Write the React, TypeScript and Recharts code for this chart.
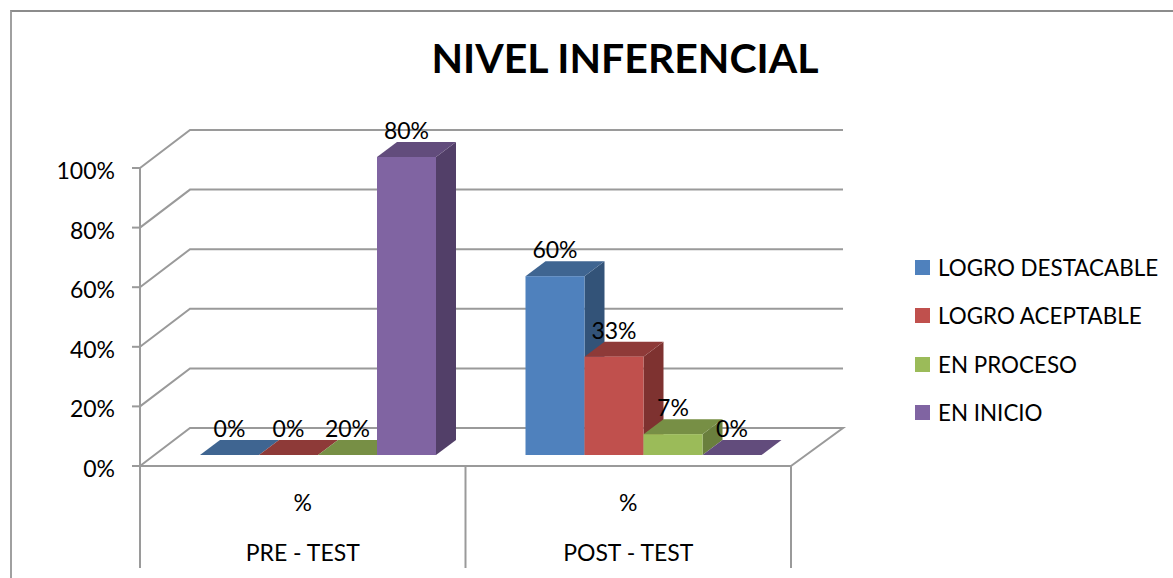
import { Bar, BarChart, CartesianGrid, LabelList, Legend, XAxis, YAxis } from "recharts";

const categories = ["PRE - TEST", "POST - TEST"];
const units = ["%", "%"];
const percentTicks = [0, 20, 40, 60, 80, 100];

// heights as drawn in the picture; the printed labels do not always agree with them
const destacable = [0, 60];
const aceptable = [0, 33];
const proceso = [0, 7];
const inicio = [100, 0];

const destacableLabels = ["0%", "60%"];
const aceptableLabels = ["0%", "33%"];
const procesoLabels = ["20%", "7%"];
const inicioLabels = ["80%", "0%"];

const series = [
  { key: "destacable", name: "LOGRO DESTACABLE", front: "#4f81bd", top: "#3f6591", side: "#335378" },
  { key: "aceptable", name: "LOGRO ACEPTABLE", front: "#c0504d", top: "#8e3a38", side: "#7e3230" },
  { key: "proceso", name: "EN PROCESO", front: "#9bbb59", top: "#778f45", side: "#6a7f3d" },
  { key: "inicio", name: "EN INICIO", front: "#8064a2", top: "#624c7c", side: "#523f68" },
];

const data = categories.map((c, i) => ({
  category: c,
  unit: units[i],
  destacable: destacable[i],
  aceptable: aceptable[i],
  proceso: proceso[i],
  inicio: inicio[i],
  destacableLabel: destacableLabels[i],
  aceptableLabel: aceptableLabels[i],
  procesoLabel: procesoLabels[i],
  inicioLabel: inicioLabels[i],
}));

const FONT = "Lato, 'Open Sans', sans-serif";
const AXIS = "#9a9a9a";
const AXIS_W = 2;
const PLOT_LEFT = 140;
const PLOT_RIGHT = 791;
const PLOT_TOP = 168;
const PLOT_BOTTOM = 466;
const WALL_DX = 50;
const WALL_DY = 38;
const BAR_DX = 16;
const BAR_DY = 11;
const DEPTH_X = 20;
const DEPTH_Y = 15;

function Bar3D(props: any) {
  const { x, y, width, height, top, side, front } = props;
  const l = x + BAR_DX;
  const r = l + width;
  const t = y - BAR_DY;
  const b = t + height;
  return (
    <g>
      <polygon points={`${r},${t} ${r + DEPTH_X},${t - DEPTH_Y} ${r + DEPTH_X},${b - DEPTH_Y} ${r},${b}`} fill={side} />
      <polygon points={`${l},${t} ${l + DEPTH_X},${t - DEPTH_Y} ${r + DEPTH_X},${t - DEPTH_Y} ${r},${t}`} fill={top} />
      <rect x={l} y={t} width={width} height={height} fill={front} />
    </g>
  );
}

function BarLabel(props: any) {
  const { x, y, width, value } = props;
  return (
    <text x={x + BAR_DX + width / 2} y={y - BAR_DY - 27} textAnchor="middle" dominantBaseline="central" fontSize={23} fontFamily={FONT} fill="#000">
      {value}
    </text>
  );
}

function WallLine(props: any) {
  const { x1, y1, x2 } = props;
  const backY = y1 - WALL_DY;
  let d = `M${x1},${y1} L${x1 + WALL_DX},${backY} L${x2 + 52},${backY}`;
  if (Math.abs(y1 - PLOT_BOTTOM) < 1) d += ` L${x2},${y1}`;
  return <path d={d} fill="none" stroke={AXIS} strokeWidth={AXIS_W} />;
}

function CategoryTick(props: any) {
  const { x, payload, index } = props;
  const half = (PLOT_RIGHT - PLOT_LEFT) / categories.length / 2;
  const lineStyle = { stroke: AXIS, strokeWidth: AXIS_W };
  return (
    <g fontFamily={FONT} fontSize={23} fill="#000">
      <line x1={x - half} y1={PLOT_BOTTOM} x2={x - half} y2={568} {...lineStyle} />
      {index === categories.length - 1 && <line x1={x + half} y1={PLOT_BOTTOM} x2={x + half} y2={568} {...lineStyle} />}
      <text x={x} y={502} textAnchor="middle" dominantBaseline="central">{units[index]}</text>
      <text x={x} y={552} textAnchor="middle" dominantBaseline="central">{payload.value}</text>
    </g>
  );
}

function PercentTick(props: any) {
  const { x, y, payload } = props;
  return (
    <text x={x} y={y + 2} textAnchor="end" dominantBaseline="central" fontFamily={FONT} fontSize={23} fill="#000">
      {`${payload.value}%`}
    </text>
  );
}

function LegendList() {
  return (
    <div style={{ fontFamily: FONT, fontSize: 22.4, color: "#000" }}>
      {series.map((s) => (
        <div key={s.key} style={{ display: "flex", alignItems: "center", height: 48.5 }}>
          <span style={{ width: 15, height: 15, background: s.front, marginRight: 8 }} />
          <span style={{ whiteSpace: "nowrap" }}>{s.name}</span>
        </div>
      ))}
    </div>
  );
}

export default function App() {
  return (
    <div style={{ position: "absolute", left: 0, top: 0, width: 1173, height: 578, overflow: "hidden", background: "#fff" }}>
      <div style={{ position: "absolute", left: 10, top: 10, width: 1163, height: 568, borderTop: "2px solid #8c8c8c", borderLeft: "2px solid #a0a0a0", boxSizing: "border-box" }} />
      <div style={{ position: "absolute", left: 300, width: 650, top: 32, textAlign: "center", fontFamily: FONT, fontWeight: 700, fontSize: 41, lineHeight: "52px", color: "#000" }}>
        NIVEL INFERENCIAL
      </div>
      <BarChart
        width={1173}
        height={578}
        data={data}
        margin={{ top: PLOT_TOP, right: 1173 - PLOT_RIGHT, bottom: 0, left: 60 }}
        barCategoryGap={44}
        barGap={0}
        style={{ position: "absolute", left: 0, top: 0 }}
      >
        <CartesianGrid vertical={false} horizontal={(p: any) => <WallLine key={p.key} {...p} />} />
        <XAxis
          dataKey="category"
          height={578 - PLOT_BOTTOM}
          interval={0}
          tickLine={false}
          axisLine={{ stroke: AXIS, strokeWidth: AXIS_W }}
          tick={CategoryTick}
        />
        <YAxis
          width={80}
          domain={[0, 100]}
          ticks={percentTicks}
          tickSize={8}
          tickMargin={17}
          axisLine={{ stroke: AXIS, strokeWidth: AXIS_W }}
          tickLine={{ stroke: AXIS, strokeWidth: AXIS_W }}
          tick={PercentTick}
        />
        <Legend
          layout="vertical"
          align="center"
          verticalAlign="middle"
          content={LegendList}
          wrapperStyle={{ left: 915, top: 243, width: 250, height: 200 }}
        />
        {series.map((s) => (
          <Bar
            key={s.key}
            dataKey={s.key}
            name={s.name}
            fill={s.front}
            isAnimationActive={false}
            shape={(p: any) => <Bar3D {...p} front={s.front} top={s.top} side={s.side} />}
          >
            <LabelList dataKey={`${s.key}Label`} content={BarLabel} />
          </Bar>
        ))}
      </BarChart>
    </div>
  );
}
